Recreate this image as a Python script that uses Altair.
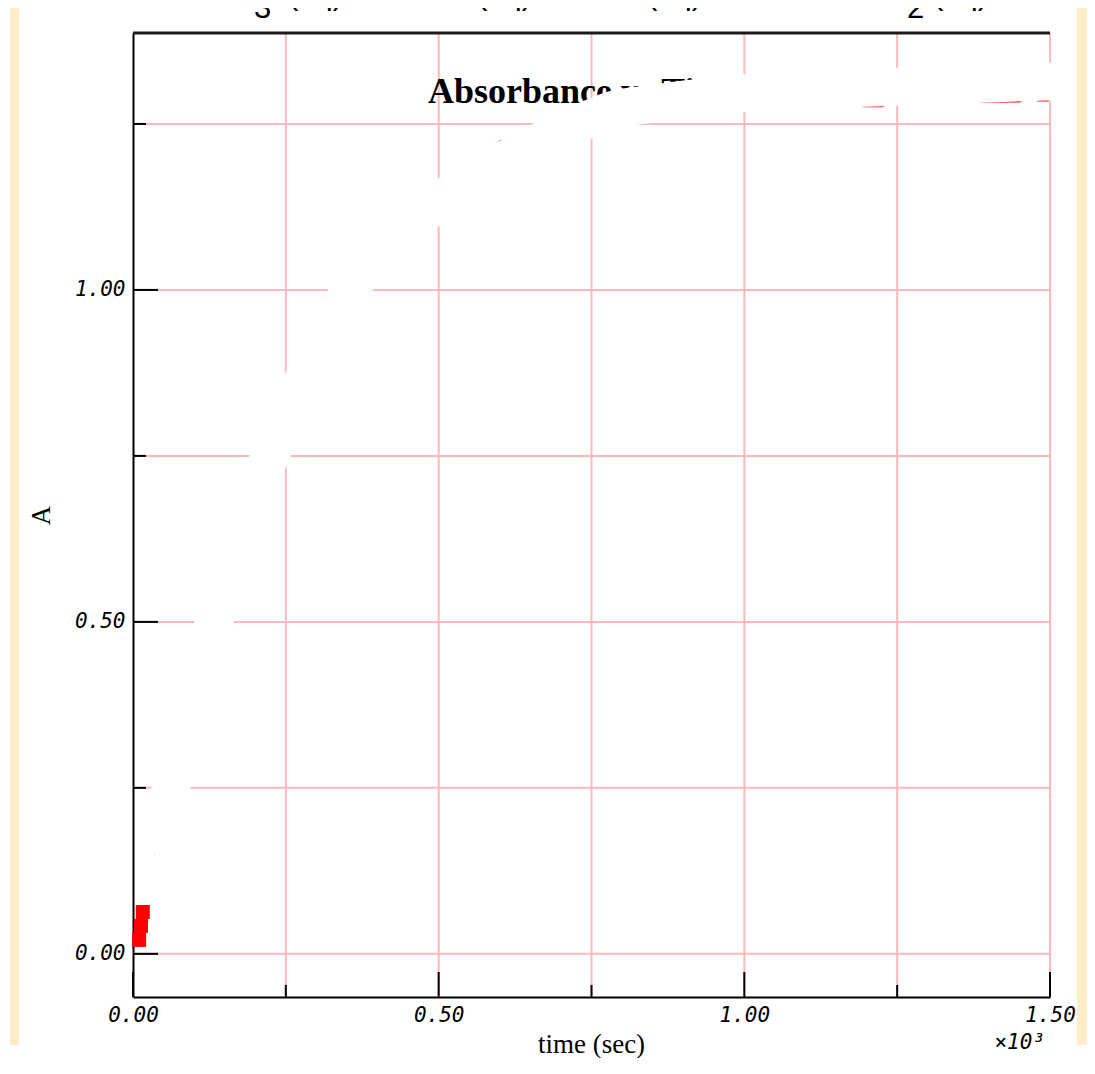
import altair as alt
import pandas as pd

W, H = 917, 964
PINK = "#ffb8b8"
BEIGE = "#feecc9"

# grid / tick positions
x_grid = [250, 500, 750, 1000, 1250, 1500]
y_grid = [0.0, 0.25, 0.5, 0.75, 1.0, 1.25]
x_major = [0, 500, 1000, 1500]
x_minor = [250, 750, 1250]
y_major = [0.0, 0.5, 1.0]
y_minor = [0.25, 0.75, 1.25]

# visible measured points (red squares)
pt_time = [10, 13, 16]
pt_abs = [0.021, 0.042, 0.063]

# red data trace (mostly hidden under the white stroke)
line_time = [35, 62, 133, 224, 250, 355, 500, 601, 700, 800, 900, 1000, 1100, 1150,
             1195, 1225, 1260, 1350, 1385, 1450, 1470, 1480, 1498]
line_abs = [0.15, 0.25, 0.50, 0.75, 0.81, 1.00, 1.15, 1.224, 1.245, 1.262, 1.272, 1.279,
            1.283, 1.287, 1.2765, 1.2765, 1.29, 1.294, 1.2835, 1.284, 1.293, 1.2855, 1.2855]

# white masking stroke drawn over the trace
mask_time = [35, 62, 132.5, 224, 250, 355, 499, 658, 751, 785, 846, 998, 1250, 1400, 1505]
mask_abs = [0.15, 0.25, 0.50, 0.75, 0.806, 1.00, 1.131, 1.22, 1.259, 1.271, 1.280, 1.296,
            1.306, 1.311, 1.314]

title_text = "Absorbance vs Time"
x_title = "time (sec)"
y_title = "A"
x_mult = "×10³"
eq_main = [("BrO", 187), ("(aq) + 5Br", 288), ("(aq) + 6H", 477), ("(aq)", 647),
           ("→", 730), ("3 Br", 837), ("(aq) + 3 H", 933)]
eq_sub = [("3", 254), ("2", 907)]

xs = alt.Scale(domain=[0, 1500], nice=False, zero=False)
ys = alt.Scale(domain=[-0.065, 1.387], nice=False, zero=False)

x_axis = alt.Axis(values=x_major, labelExpr="format(datum.value/1000, '.2f')",
                  ticks=False, grid=False, domainColor="black", domainWidth=2,
                  labelFont="DejaVu Sans Mono", labelFontStyle="italic", labelFontSize=21,
                  labelColor="black", labelPadding=7, labelFlush=False, labelOverlap=False,
                  title=x_title, titleFont="Liberation Serif", titleFontSize=27,
                  titleFontWeight="normal", titleColor="black", titleX=458, titleY=55,
                  titleAlign="center", titleBaseline="alphabetic")
y_axis = alt.Axis(values=y_major, format=".2f", ticks=False, grid=False,
                  domainColor="black", domainWidth=2,
                  labelFont="DejaVu Sans Mono", labelFontStyle="italic", labelFontSize=21,
                  labelColor="black", labelPadding=8, labelFlush=False, labelOverlap=False,
                  title=y_title, titleFont="Liberation Serif", titleFontSize=27,
                  titleFontWeight="normal", titleColor="black", titleX=-92, titleY=482,
                  titleAngle=270, titleAlign="center", titleBaseline="middle")


def X():
    return alt.X("t:Q", scale=xs, axis=x_axis)


def Y():
    return alt.Y("A:Q", scale=ys, axis=y_axis)


vgrid = alt.Chart(pd.DataFrame({"t": x_grid})).mark_rule(color=PINK, strokeWidth=2).encode(x=X())
hgrid = alt.Chart(pd.DataFrame({"A": y_grid})).mark_rule(color=PINK, strokeWidth=2).encode(y=Y())

title = alt.Chart(pd.DataFrame({"s": [title_text]})).mark_text(
    font="Liberation Serif", fontWeight="bold", fontSize=36, align="left",
    baseline="alphabetic", color="black").encode(
    text="s:N", x=alt.value(295), y=alt.value(70))

trace = alt.Chart(pd.DataFrame({"t": line_time, "A": line_abs})).mark_line(
    color="#ff0000", strokeWidth=2).encode(x=X(), y=Y())

mask = alt.Chart(pd.DataFrame({"t": mask_time, "A": mask_abs})).mark_line(
    color="white", strokeWidth=38, interpolate="monotone", strokeCap="butt",
    strokeJoin="round").encode(x=X(), y=Y())

pts = alt.Chart(pd.DataFrame({"t": pt_time, "A": pt_abs})).mark_square(
    color="#ff0000", size=196, opacity=1, filled=True).encode(x=X(), y=Y())

xt_major = alt.Chart(pd.DataFrame({"t": x_major})).mark_rule(color="black", strokeWidth=2).encode(
    x=X(), y=alt.value(H), y2=alt.value(H - 25))
xt_minor = alt.Chart(pd.DataFrame({"t": x_minor})).mark_rule(color="black", strokeWidth=2).encode(
    x=X(), y=alt.value(H), y2=alt.value(H - 12))
yt_major = alt.Chart(pd.DataFrame({"A": y_major})).mark_rule(color="black", strokeWidth=2).encode(
    y=Y(), x=alt.value(0), x2=alt.value(25))
yt_minor = alt.Chart(pd.DataFrame({"A": y_minor})).mark_rule(color="black", strokeWidth=2).encode(
    y=Y(), x=alt.value(0), x2=alt.value(13))

top_border = alt.Chart(pd.DataFrame({"k": [0]})).mark_rule(color="#1a1a1a", strokeWidth=3).encode(
    x=alt.value(0), x2=alt.value(W), y=alt.value(0))

mult = alt.Chart(pd.DataFrame({"s": [x_mult]})).mark_text(
    font="DejaVu Sans Mono", fontStyle="italic", fontSize=21, align="right",
    baseline="alphabetic", color="black").encode(
    text="s:N", x=alt.value(912), y=alt.value(1016))

bars = [
    alt.Chart(pd.DataFrame({"k": [0]})).mark_rect(color=BEIGE).encode(
        x=alt.value(-123), x2=alt.value(-114), y=alt.value(-25), y2=alt.value(1012)),
    alt.Chart(pd.DataFrame({"k": [0]})).mark_rect(color=BEIGE).encode(
        x=alt.value(944), x2=alt.value(954), y=alt.value(-25), y2=alt.value(1012)),
]

eq_layers = []
for s, px in eq_main:
    eq_layers.append(alt.Chart(pd.DataFrame({"s": [s]})).mark_text(
        font="Liberation Sans", fontSize=31, align="left", baseline="alphabetic",
        color="black").encode(text="s:N", x=alt.value(px - 133), y=alt.value(-29)))
for s, px in eq_sub:
    eq_layers.append(alt.Chart(pd.DataFrame({"s": [s]})).mark_text(
        font="Liberation Sans", fontSize=31, align="left", baseline="alphabetic",
        color="black").encode(text="s:N", x=alt.value(px - 133), y=alt.value(-15)))

chart = alt.layer(
    *bars, vgrid, hgrid, title, trace, mask, pts,
    xt_major, xt_minor, yt_major, yt_minor, top_border, mult, *eq_layers
).properties(
    width=W, height=H,
    autosize=alt.AutoSizeParams(type="none"),
    padding={"left": 125, "top": 25, "right": 37, "bottom": 61},
).configure_view(stroke=None)

chart.save("out.html", embed_options={"renderer": "svg", "actions": False})
